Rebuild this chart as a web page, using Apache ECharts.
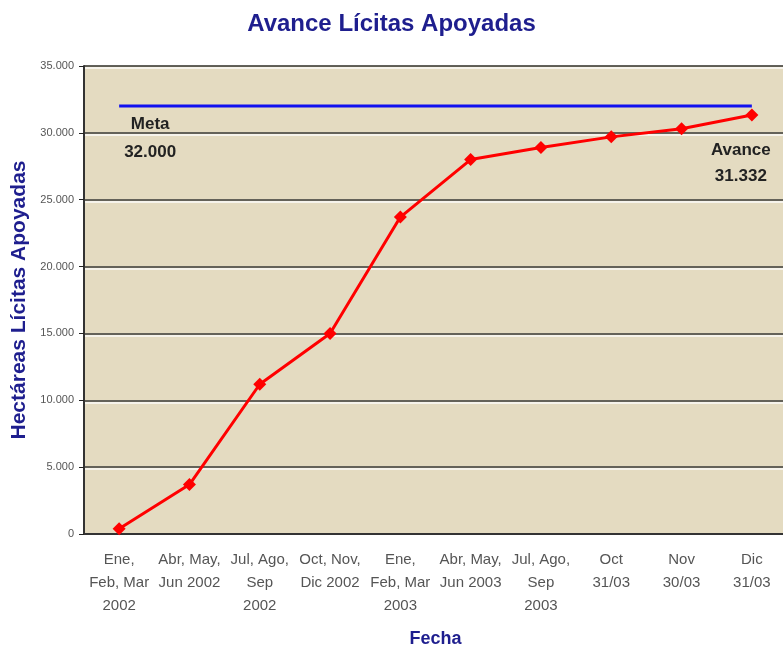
<!DOCTYPE html>
<html>
<head>
<meta charset="utf-8">
<script src="https://cdn.jsdelivr.net/npm/echarts@6/dist/echarts.min.js"></script>
<style>
  html, body { margin: 0; padding: 0; background: #fff; }
  #chart { width: 783px; height: 653px; }
</style>
</head>
<body>
<div id="chart"></div>
<script>
// periodos del eje X
const fechas = [
  'Ene,\nFeb, Mar\n2002',
  'Abr, May,\nJun 2002',
  'Jul, Ago,\nSep\n2002',
  'Oct, Nov,\nDic 2002',
  'Ene,\nFeb, Mar\n2003',
  'Abr, May,\nJun 2003',
  'Jul, Ago,\nSep\n2003',
  'Oct\n31/03',
  'Nov\n30/03',
  'Dic\n31/03'
]
// hectáreas acumuladas
const avance = [400, 3700, 11200, 15000, 23700, 28000, 28900, 29700, 30300, 31332]
const meta = [32000, 32000, 32000, 32000, 32000, 32000, 32000, 32000, 32000, 32000]
const yTicks = [0, 5000, 10000, 15000, 20000, 25000, 30000, 35000]

const navy = '#1e1e8e'
const font = 'Liberation Sans, Arial'
const fmt = (v) => String(v).replace(/\B(?=(\d{3})+(?!\d))/g, '.')

const chart = echarts.init(document.getElementById('chart'))

chart.setOption({
  backgroundColor: '#ffffff',
  animation: false,
  title: {
    text: 'Avance Lícitas Apoyadas',
    left: 'center',
    top: 7,
    textStyle: { color: navy, fontSize: 24, fontWeight: 'bold', fontFamily: font }
  },
  grid: {
    left: 84,
    top: 66,
    width: 703,
    height: 468,
    outerBoundsMode: 'none',
    containLabel: false,
    show: true,
    backgroundColor: '#e4dbc1',
    borderColor: '#b8b09a',
    borderWidth: 1
  },
  xAxis: {
    type: 'category',
    data: fechas,
    boundaryGap: true,
    name: 'Fecha',
    nameLocation: 'middle',
    nameGap: 96,
    nameTextStyle: { color: navy, fontSize: 18, fontWeight: 'bold', fontFamily: font },
    axisLine: { lineStyle: { color: '#333', width: 2 } },
    axisTick: { alignWithLabel: false, length: 5, lineStyle: { color: '#222' } },
    axisLabel: {
      interval: 0,
      color: '#555',
      fontSize: 15,
      lineHeight: 23,
      margin: 14,
      fontFamily: font
    }
  },
  yAxis: {
    type: 'value',
    min: yTicks[0],
    max: yTicks[yTicks.length - 1],
    interval: 5000,
    name: 'Hectáreas Lícitas Apoyadas',
    nameLocation: 'middle',
    nameRotate: 90,
    nameGap: 54,
    nameTextStyle: { color: navy, fontSize: 21, fontWeight: 'bold', fontFamily: font },
    axisLine: { show: true, lineStyle: { color: '#333', width: 2 } },
    axisTick: { show: true, length: 5, lineStyle: { color: '#222' } },
    axisLabel: {
      color: '#555',
      fontSize: 11,
      margin: 10,
      fontFamily: font,
      formatter: fmt
    },
    splitLine: {
      lineStyle: { color: '#3a3a36', width: 1.5, shadowColor: 'rgba(255,255,255,0.9)', shadowOffsetY: 2, shadowBlur: 0 }
    }
  },
  series: [
    {
      name: 'Meta',
      type: 'line',
      data: meta.map((v, i) => i === 0 ? {
        value: v,
        symbol: 'circle',
        symbolSize: 1,
        itemStyle: { color: 'rgba(0,0,0,0)' },
        label: {
          show: true,
          position: 'bottom',
          distance: 4,
          offset: [31, 0],
          align: 'center',
          lineHeight: 28,
          fontSize: 17,
          fontWeight: 'bold',
          color: '#222',
          fontFamily: font,
          formatter: 'Meta\n' + fmt(v)
        }
      } : { value: v, symbol: 'none' }),
      lineStyle: { color: '#1010f0', width: 3 },
      z: 2
    },
    {
      name: 'Avance',
      type: 'line',
      data: avance.map((v, i) => i === avance.length - 1 ? {
        value: v,
        label: {
          show: true,
          position: 'bottom',
          distance: 16,
          offset: [-11, 0],
          align: 'center',
          lineHeight: 26,
          fontSize: 17,
          fontWeight: 'bold',
          color: '#222',
          fontFamily: font,
          formatter: 'Avance\n' + fmt(v)
        }
      } : v),
      symbol: 'diamond',
      symbolSize: 13,
      itemStyle: { color: '#ff0000' },
      lineStyle: { color: '#ff0000', width: 3 },
      z: 3
    }
  ]
})
</script>
</body>
</html>
